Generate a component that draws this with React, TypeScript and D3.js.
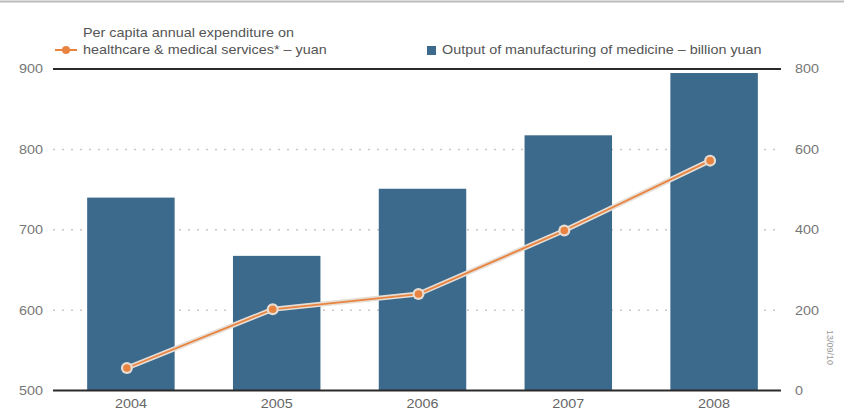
import React from "react";
import * as d3 from "d3";

const years = ["2004", "2005", "2006", "2007", "2008"];
const expenditure = [528, 601, 620, 699, 786];
const output = [480, 335, 502, 635, 790];
const leftTicks = [500, 600, 700, 800, 900];
const rightTicks = [0, 200, 400, 600, 800];

const W = 844;
const H = 411;
const FONT = "'Liberation Sans', Arial, sans-serif";
const BAR = "#3b6a8c";
const ORANGE = "#e8843f";
const SX = 1.15;

function T(props: {
  x: number;
  y: number;
  anchor?: "start" | "middle" | "end";
  size?: number;
  fill?: string;
  children: React.ReactNode;
}) {
  const { x, y, anchor = "start", size = 12.5, fill = "#555", children } = props;
  return (
    <text
      transform={`translate(${x},${y}) scale(${SX},1)`}
      dy="0.35em"
      textAnchor={anchor}
      fontSize={size}
      fill={fill}
    >
      {children}
    </text>
  );
}

export default function App() {
  const x = d3.scaleBand<string>().domain(years).range([58, 787]).paddingInner(0.4).paddingOuter(0.2);
  const yL = d3.scaleLinear().domain([500, 900]).range([390.5, 69]);
  const yR = d3.scaleLinear().domain([0, 800]).range([390.5, 69]);
  const lineX = (d: string) => (x(d) as number) + x.bandwidth() / 2 - 4;
  const line = d3
    .line<number>()
    .x((_, i) => lineX(years[i]))
    .y((d) => yL(d));
  const path = line(expenditure) || "";
  const x0 = 53;
  const x1 = 781;

  return (
    <svg
      width={W}
      height={H}
      style={{ position: "absolute", left: 0, top: 0, background: "#fff" }}
      fontFamily={FONT}
    >
      <rect x={0} y={0} width={W} height={H} fill="#fff" />
      <line x1={0} x2={W} y1={1.5} y2={1.5} stroke="#bbb" strokeWidth={2} />

      {leftTicks.slice(1, -1).map((t) => (
        <line
          key={t}
          x1={x0}
          x2={x1}
          y1={yL(t)}
          y2={yL(t)}
          stroke="#c8c8c8"
          strokeWidth={1.5}
          strokeDasharray="2,7"
        />
      ))}

      {years.map((yr, i) => (
        <rect
          key={yr}
          x={x(yr)}
          y={yR(output[i])}
          width={x.bandwidth()}
          height={yR(0) - yR(output[i])}
          fill={BAR}
        />
      ))}

      <line x1={x0} x2={x1} y1={yL(900)} y2={yL(900)} stroke="#2a2a2a" strokeWidth={2} />
      <line x1={x0} x2={x1} y1={yL(500)} y2={yL(500)} stroke="#2a2a2a" strokeWidth={2} />

      <path d={path} fill="none" stroke="#e6ddd5" strokeWidth={5} strokeLinejoin="round" />
      <path d={path} fill="none" stroke={ORANGE} strokeWidth={1.8} strokeLinejoin="round" />
      {expenditure.map((v, i) => (
        <g key={i}>
          <circle cx={lineX(years[i])} cy={yL(v)} r={6} fill="#e6ddd5" />
          <circle cx={lineX(years[i])} cy={yL(v)} r={3.8} fill={ORANGE} />
        </g>
      ))}

      {leftTicks.map((t) => (
        <T key={t} x={43} y={yL(t)} anchor="end" fill="#777">
          {t}
        </T>
      ))}
      {rightTicks.map((t) => (
        <T key={t} x={795} y={yR(t)} anchor="start" fill="#777">
          {t}
        </T>
      ))}
      {years.map((yr) => (
        <T key={yr} x={(x(yr) as number) + x.bandwidth() / 2} y={404} anchor="middle" fill="#666">
          {yr}
        </T>
      ))}

      <line x1={55} x2={77} y1={50} y2={50} stroke={ORANGE} strokeWidth={2} />
      <circle cx={66} cy={50} r={4} fill={ORANGE} />
      <T x={83} y={33}>Per capita annual expenditure on</T>
      <T x={83} y={50}>healthcare &amp; medical services* – yuan</T>
      <rect x={427} y={46} width={9} height={9} fill={BAR} />
      <T x={442} y={50}>Output of manufacturing of medicine – billion yuan</T>

      <text transform="translate(830,330) rotate(90)" fontSize={9} fill="#999" dy="0.35em">
        13/09/10
      </text>
    </svg>
  );
}
